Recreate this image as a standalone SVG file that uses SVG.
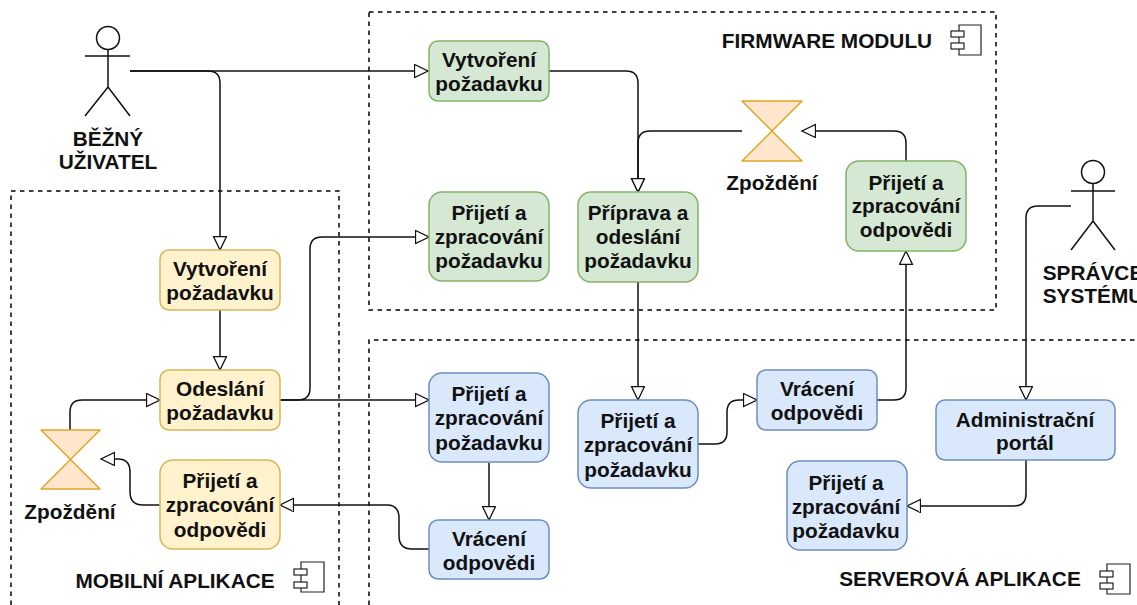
<svg xmlns="http://www.w3.org/2000/svg" width="1137" height="605" viewBox="0 0 1137 605">
<style>
text{font-family:"Liberation Sans",Arial,sans-serif;font-weight:700;font-size:20.8px;fill:#111;text-anchor:middle}
.zone{fill:none;stroke:#000;stroke-width:1.5;stroke-dasharray:4.5 4.5}
.g{fill:#d5e8d4;stroke:#82b366;stroke-width:1.5}
.y{fill:#fff2cc;stroke:#d6b656;stroke-width:1.5}
.b{fill:#dae8fc;stroke:#6c8ebf;stroke-width:1.5}
.h{fill:#ffe6cc;stroke:#e0a526;stroke-width:1.5;stroke-linejoin:round}
.a{fill:none;stroke:#111;stroke-width:1.5}
.c{fill:none;stroke:#111;stroke-width:1.5;marker-end:url(#m)}
.i{fill:#fff;stroke:#222;stroke-width:1.2}
</style>
<defs>
<marker id="m" markerUnits="userSpaceOnUse" markerWidth="16" markerHeight="16" refX="14" refY="7" orient="auto"><path d="M0.5 0.5L14 7L0.5 13.5Z" fill="#fff" stroke="#111" stroke-width="1.3"/></marker>
</defs>
<g id="zones">
<rect class="zone" x="369" y="12" width="627" height="298"/>
<path class="zone" d="M11 605V191H339V605"/>
<path class="zone" d="M369 605V340H1137"/>
</g>
<g id="connectors">
<path class="c" d="M130 71H428"/>
<path class="c" d="M130 71H208Q220 71 220 83V250"/>
<path class="c" d="M220 310V370"/>
<path class="c" d="M549 71H626Q638 71 638 83V192"/>
<path class="c" d="M742 131H650Q638 131 638 143V192"/>
<path class="c" d="M906 161V143Q906 131 894 131H802"/>
<path class="c" d="M280 400H298Q310 400 310 388V249Q310 237 322 237H429"/>
<path class="c" d="M280 400H429"/>
<path class="c" d="M70 430V412Q70 400 82 400H160"/>
<path class="c" d="M160 505H143Q130 505 130 492V472Q130 459 118 459H101"/>
<path class="c" d="M429 549H412Q399 549 399 536V518Q399 505 387 505H280"/>
<path class="c" d="M489 463V520"/>
<path class="c" d="M638 282V400"/>
<path class="c" d="M698 444H715Q727 444 727 432V412Q727 400 739 400H757"/>
<path class="c" d="M877 400H894Q906 400 906 388V251"/>
<path class="c" d="M1071 206H1038Q1026 206 1026 218V400"/>
<path class="c" d="M1026 460V494Q1026 506 1014 506H907"/>
</g>
<g id="actor-bezny">
<circle class="a" cx="108" cy="38" r="11.5"/>
<path class="a" d="M108 50V87M85 56H130M85 116L108 87L130 116"/>
<text x="108" y="146">BĚŽNÝ</text><text x="108" y="169">UŽIVATEL</text>
</g>
<g id="actor-spravce">
<circle class="a" cx="1093" cy="172" r="11.5"/>
<path class="a" d="M1093 184V221M1071 191H1115M1071 250L1093 221L1115 250"/>
<text x="1093" y="280">SPRÁVCE</text><text x="1093" y="303">SYSTÉMU</text>
</g>
<g id="label-firmware"><text x="827" y="48">FIRMWARE MODULU</text>
<path class="i" d="M959 25H981V55H959Z"/><rect class="i" x="951" y="31" width="13" height="6"/><rect class="i" x="951" y="43" width="13" height="6"/></g>
<g id="label-mobilni"><text x="175" y="588">MOBILNÍ APLIKACE</text>
<path class="i" d="M301 562H324V592H301Z"/><rect class="i" x="294" y="569" width="13" height="6"/><rect class="i" x="294" y="582" width="13" height="6"/></g>
<g id="label-serverova"><text x="960" y="586">SERVEROVÁ APLIKACE</text>
<path class="i" d="M1107 564H1130V594H1107Z"/><rect class="i" x="1100" y="571" width="13" height="6"/><rect class="i" x="1100" y="583" width="13" height="6"/></g>
<g id="delay-firmware"><path class="h" d="M742 101H802L742 161H802Z"/><text x="772" y="190">Zpoždění</text></g>
<g id="delay-mobilni"><path class="h" d="M41 430H100L41 489H100Z"/><text x="70" y="519">Zpoždění</text></g>
<g id="g1"><rect class="g" x="429" y="41" width="120" height="60" rx="9"/><text x="489" y="67">Vytvoření</text><text x="489" y="91">požadavku</text></g>
<g id="g2"><rect class="g" x="429" y="192" width="120" height="89" rx="13"/><text x="489" y="220">Přijetí a</text><text x="489" y="244">zpracování</text><text x="489" y="268">požadavku</text></g>
<g id="g3"><rect class="g" x="578" y="192" width="120" height="90" rx="13"/><text x="638" y="220">Příprava a</text><text x="638" y="244">odeslání</text><text x="638" y="268">požadavku</text></g>
<g id="g4"><rect class="g" x="846" y="161" width="120" height="90" rx="13"/><text x="906" y="190">Přijetí a</text><text x="906" y="213">zpracování</text><text x="906" y="237">odpovědi</text></g>
<g id="y1"><rect class="y" x="160" y="250" width="120" height="60" rx="9"/><text x="220" y="276">Vytvoření</text><text x="220" y="300">požadavku</text></g>
<g id="y2"><rect class="y" x="160" y="370" width="120" height="60" rx="9"/><text x="220" y="396">Odeslání</text><text x="220" y="420">požadavku</text></g>
<g id="y3"><rect class="y" x="160" y="460" width="120" height="89" rx="13"/><text x="220" y="488">Přijetí a</text><text x="220" y="512">zpracování</text><text x="220" y="537">odpovědi</text></g>
<g id="b1"><rect class="b" x="429" y="373" width="120" height="89" rx="13"/><text x="489" y="401">Přijetí a</text><text x="489" y="425">zpracování</text><text x="489" y="450">požadavku</text></g>
<g id="b2"><rect class="b" x="429" y="520" width="120" height="59" rx="9"/><text x="489" y="546">Vrácení</text><text x="489" y="570">odpovědi</text></g>
<g id="b3"><rect class="b" x="578" y="400" width="120" height="88" rx="13"/><text x="638" y="428">Přijetí a</text><text x="638" y="452">zpracování</text><text x="638" y="477">požadavku</text></g>
<g id="b4"><rect class="b" x="757" y="370" width="120" height="60" rx="9"/><text x="817" y="396">Vrácení</text><text x="817" y="420">odpovědi</text></g>
<g id="b5"><rect class="b" x="936" y="400" width="179" height="60" rx="9"/><text x="1025" y="427">Administrační</text><text x="1025" y="450">portál</text></g>
<g id="b6"><rect class="b" x="787" y="461" width="120" height="89" rx="13"/><text x="846" y="490">Přijetí a</text><text x="846" y="514">zpracování</text><text x="846" y="538">požadavku</text></g>
</svg>
